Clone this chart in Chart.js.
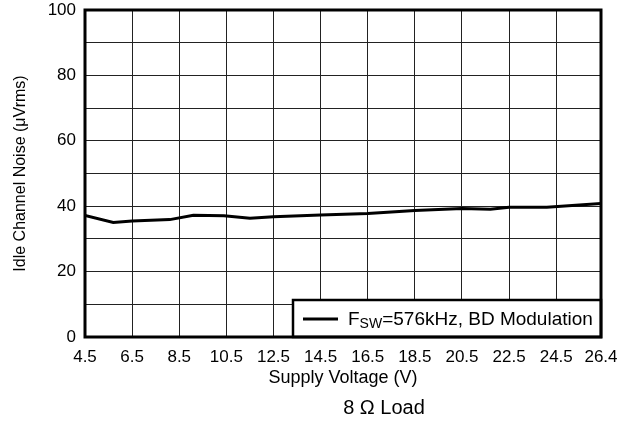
<!DOCTYPE html>
<html>
<head>
<meta charset="utf-8">
<script src="https://cdn.jsdelivr.net/npm/chart.js@4"></script>
<style>
  html, body { margin: 0; padding: 0; background: #fff; }
  #wrap { width: 632px; height: 425px; }
</style>
</head>
<body>
<div id="wrap"><canvas id="myChart" width="632" height="425"></canvas></div>
<script>
// DATA
const voltage = [4.5, 5.7, 6.5, 8.1, 9.1, 10.4, 11.5, 12.5, 14.5, 16.5, 18.5, 20.5, 21.7, 22.5, 24.1, 26.4];
const noise   = [37.2, 35.0, 35.5, 35.9, 37.2, 37.1, 36.3, 36.8, 37.3, 37.8, 38.7, 39.3, 39.1, 39.7, 39.7, 40.8];
const xTicks = [4.5, 6.5, 8.5, 10.5, 12.5, 14.5, 16.5, 18.5, 20.5, 22.5, 24.5, 26.4];
const yLabelEvery = 20;
const seriesName = { main: "F", sub: "SW", rest: "=576kHz, BD Modulation" };
const caption = "8 \u03A9 Load";

const FONT = "'Liberation Sans', Arial, sans-serif";
Chart.defaults.font.family = FONT;
Chart.defaults.color = "#000";

// border, legend and caption drawn on top
const extras = {
  id: "extras",
  afterDatasetsDraw(chart) {
    const { ctx, chartArea: a } = chart;
    ctx.save();
    // legend box
    const bw = 308, bh = 37;
    const bx = a.right - bw, by = a.bottom - bh;
    ctx.fillStyle = "#fff";
    ctx.fillRect(bx, by, bw, bh);
    ctx.strokeStyle = "#000";
    ctx.lineWidth = 2.5;
    ctx.strokeRect(bx, by, bw, bh);
    ctx.lineWidth = 3;
    ctx.beginPath();
    ctx.moveTo(bx + 10, by + 19);
    ctx.lineTo(bx + 45, by + 19);
    ctx.stroke();
    ctx.fillStyle = "#000";
    ctx.textBaseline = "alphabetic";
    let tx = bx + 55;
    const ty = by + 25;
    ctx.font = "19px " + FONT;
    ctx.fillText(seriesName.main, tx, ty);
    tx += ctx.measureText(seriesName.main).width;
    ctx.font = "14px " + FONT;
    ctx.fillText(seriesName.sub, tx, ty + 3);
    tx += ctx.measureText(seriesName.sub).width;
    ctx.font = "19px " + FONT;
    ctx.fillText(seriesName.rest, tx, ty);
    // plot frame
    ctx.lineWidth = 3;
    ctx.strokeRect(a.left, a.top, a.right - a.left, a.bottom - a.top);
    // caption
    ctx.font = "20px " + FONT;
    ctx.textAlign = "center";
    ctx.textBaseline = "middle";
    ctx.fillText(caption, a.left + 299, 408);
    ctx.restore();
  }
};

const config = {
  type: "line",
  data: {
    datasets: [{
      data: voltage.map((v, i) => ({ x: v, y: noise[i] })),
      borderColor: "#000",
      borderWidth: 3,
      pointRadius: 0,
      tension: 0,
      fill: false
    }]
  },
  options: {
    responsive: false,
    animation: false,
    layout: { padding: { left: 0, right: 31, top: 10, bottom: 36 } },
    plugins: { legend: { display: false }, tooltip: { enabled: false } },
    scales: {
      x: {
        type: "linear",
        min: 4.5,
        max: 26.4,
        afterBuildTicks(scale) { scale.ticks = xTicks.map(v => ({ value: v })); },
        afterFit(scale) { scale.height = 52; },
        grid: { color: "#222", lineWidth: 1, drawTicks: false },
        border: { display: false },
        ticks: {
          autoSkip: false,
          maxRotation: 0,
          padding: 10,
          font: { size: 17 },
          callback: v => v.toFixed(1)
        },
        title: {
          display: true,
          text: "Supply Voltage (V)",
          font: { size: 18 },
          padding: { top: 0, bottom: 0 }
        }
      },
      y: {
        min: 0,
        max: 100,
        afterFit(scale) {
          scale.width = 85;
          scale.paddingTop = 0;
          scale.paddingBottom = 0;
        },
        grid: { color: "#222", lineWidth: 1, drawTicks: false },
        border: { display: false },
        ticks: {
          stepSize: 10,
          autoSkip: false,
          padding: 9,
          font: { size: 17 },
          callback: v => (v % yLabelEvery === 0 ? String(v) : "")
        },
        title: {
          display: true,
          text: "Idle Channel Noise (\u03BCVrms)",
          font: { size: 16 },
          padding: { top: 11, bottom: 0 }
        }
      }
    }
  },
  plugins: [extras]
};

function drawChart() {
  const ctx = document.getElementById("myChart");
  new Chart(ctx, config);
}
drawChart();
</script>
</body>
</html>
